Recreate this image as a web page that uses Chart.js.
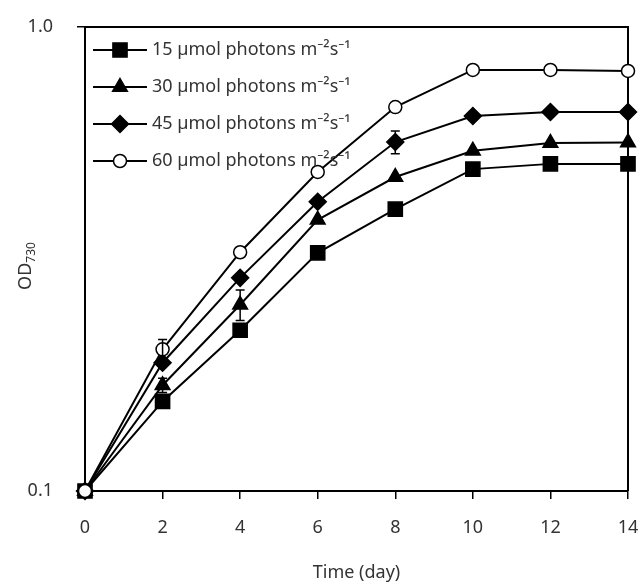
<!DOCTYPE html>
<html>
<head>
<meta charset="utf-8">
<script src="https://cdn.jsdelivr.net/npm/chart.js@4"></script>
<style>
  html, body { margin: 0; padding: 0; background: #fff; }
</style>
</head>
<body>
<canvas id="myChart" width="642" height="584"></canvas>
<script>
const days = [0, 2, 4, 6, 8, 10, 12, 14];
const seriesNames = [
    '15 µmol photons m⁻²s⁻¹',
    '30 µmol photons m⁻²s⁻¹',
    '45 µmol photons m⁻²s⁻¹',
    '60 µmol photons m⁻²s⁻¹'
];
const od15 = [0.1, 0.156, 0.222, 0.326, 0.405, 0.494, 0.507, 0.507];
const od30 = [0.1, 0.169, 0.252, 0.384, 0.475, 0.541, 0.562, 0.564];
const od45 = [0.1, 0.189, 0.288, 0.420, 0.565, 0.643, 0.656, 0.656];
const od60 = [0.1, 0.202, 0.327, 0.487, 0.672, 0.808, 0.808, 0.804];
// standard deviations (only the visible error bars)
const err15 = [null, null, null, null, null, null, null, null];
const err30 = [null, 0.006, 0.019, null, null, null, null, null];
const err45 = [null, null, null, null, 0.032, null, null, null];
const err60 = [null, 0.010, null, null, null, null, null, null];
const yTicks = [0.1, 1.0];
const xTicks = [0, 2, 4, 6, 8, 10, 12, 14];

const textColor = '#333';
const fontFamily = '"Noto Sans", sans-serif';

const styles = [
    { pointStyle: 'rect', radius: 10, fill: '#000' },
    { pointStyle: 'triangle', radius: 8.5, fill: '#000' },
    { pointStyle: 'rectRot', radius: 8.5, fill: '#000' },
    { pointStyle: 'circle', radius: 6.5, fill: '#fff' }
];
const values = [od15, od30, od45, od60];
const errors = [err15, err30, err45, err60];

const datasets = values.map(function(vals, i) {
    return {
        label: seriesNames[i],
        data: vals.map(function(v, j) { return { x: days[j], y: v }; }),
        errors: errors[i],
        borderColor: '#000',
        borderWidth: 2,
        pointStyle: styles[i].pointStyle,
        pointRadius: styles[i].radius,
        pointBackgroundColor: styles[i].fill,
        pointBorderColor: '#000',
        pointBorderWidth: 1.5,
        fill: false,
        tension: 0,
        clip: false,
        order: 3 - i
    };
});

// error bars
const errorBars = {
    id: 'errorBars',
    afterDatasetsDraw(chart) {
        const ctx = chart.ctx;
        const y = chart.scales.y;
        ctx.save();
        ctx.strokeStyle = '#000';
        ctx.lineWidth = 1.5;
        chart.data.datasets.forEach(function(ds, i) {
            const meta = chart.getDatasetMeta(i);
            ds.errors.forEach(function(e, j) {
                if (e == null) return;
                const px = meta.data[j].x;
                const v = ds.data[j].y;
                const top = y.getPixelForValue(v + e);
                const bot = y.getPixelForValue(v - e);
                ctx.beginPath();
                ctx.moveTo(px, top); ctx.lineTo(px, bot);
                ctx.moveTo(px - 4.5, top); ctx.lineTo(px + 4.5, top);
                ctx.moveTo(px - 4.5, bot); ctx.lineTo(px + 4.5, bot);
                ctx.stroke();
            });
        });
        ctx.restore();
    }
};

// frame + y title + legend
const extras = {
    id: 'extras',
    beforeDatasetsDraw(chart) {
        const ctx = chart.ctx;
        const a = chart.chartArea;
        ctx.save();
        ctx.strokeStyle = '#000';
        ctx.lineWidth = 2;
        ctx.beginPath();
        ctx.moveTo(a.left, a.top);
        ctx.lineTo(a.right, a.top);
        ctx.lineTo(a.right, a.bottom);
        ctx.stroke();
        ctx.restore();
    },
    afterDraw(chart) {
        const ctx = chart.ctx;
        // y axis title OD730 with subscript
        ctx.save();
        ctx.translate(26, 266);
        ctx.rotate(-Math.PI / 2);
        ctx.fillStyle = textColor;
        ctx.textBaseline = 'middle';
        ctx.font = '18px ' + fontFamily;
        const w1 = ctx.measureText('OD').width;
        ctx.font = '12px ' + fontFamily;
        const w2 = ctx.measureText('730').width;
        const x0 = -(w1 + w2) / 2;
        ctx.font = '18px ' + fontFamily;
        ctx.textAlign = 'left';
        ctx.fillText('OD', x0, 0);
        ctx.font = '12px ' + fontFamily;
        ctx.fillText('730', x0 + w1, 6);
        ctx.restore();

        // legend
        ctx.save();
        chart.data.datasets.forEach(function(ds, i) {
            const ry = 50 + i * 37;
            ctx.strokeStyle = '#000';
            ctx.lineWidth = 2;
            ctx.beginPath();
            ctx.moveTo(93, ry);
            ctx.lineTo(147, ry);
            ctx.stroke();
            ctx.fillStyle = ds.pointBackgroundColor;
            ctx.lineWidth = 1.5;
            Chart.helpers.drawPoint(ctx, {
                pointStyle: ds.pointStyle,
                radius: ds.pointRadius,
                rotation: 0,
                borderWidth: 1.5
            }, 120, ry);
            ctx.fillStyle = textColor;
            ctx.font = '18px ' + fontFamily;
            ctx.textAlign = 'left';
            ctx.textBaseline = 'middle';
            ctx.fillText(ds.label, 152, ry);
        });
        ctx.restore();
    }
};

const ctx = document.getElementById('myChart').getContext('2d');
const myChart = new Chart(ctx, {
    type: 'line',
    data: { datasets: datasets },
    options: {
        responsive: false,
        animation: false,
        layout: { padding: { left: 0, right: 14, top: 27, bottom: 0 } },
        plugins: {
            legend: { display: false },
            tooltip: { enabled: false }
        },
        scales: {
            x: {
                type: 'linear',
                min: 0,
                max: 14,
                afterBuildTicks: function(scale) {
                    scale.ticks = xTicks.map(function(v) { return { value: v }; });
                },
                afterFit: function(scale) {
                    scale.height = 93;
                    scale.paddingLeft = 0;
                    scale.paddingRight = 0;
                },
                ticks: {
                    color: textColor,
                    font: { family: fontFamily, size: 18 },
                    padding: 18,
                    maxRotation: 0
                },
                grid: {
                    drawOnChartArea: false,
                    drawTicks: true,
                    tickLength: 8,
                    color: '#000',
                    lineWidth: 1.5
                },
                border: { color: '#000', width: 2 },
                title: {
                    display: true,
                    text: 'Time (day)',
                    color: textColor,
                    font: { family: fontFamily, size: 18 },
                    padding: 0
                }
            },
            y: {
                type: 'logarithmic',
                min: 0.1,
                max: 1,
                afterBuildTicks: function(scale) {
                    scale.ticks = yTicks.map(function(v) { return { value: v }; });
                },
                afterFit: function(scale) {
                    scale.width = 85;
                    scale.paddingTop = 0;
                    scale.paddingBottom = 0;
                },
                ticks: {
                    color: textColor,
                    font: { family: fontFamily, size: 18 },
                    padding: 24,
                    callback: function(v) { return Number(v).toFixed(1); }
                },
                grid: {
                    drawOnChartArea: false,
                    drawTicks: true,
                    tickLength: 8,
                    color: '#000',
                    lineWidth: 1.5
                },
                border: { color: '#000', width: 2 }
            }
        }
    },
    plugins: [errorBars, extras]
});
</script>
</body>
</html>
